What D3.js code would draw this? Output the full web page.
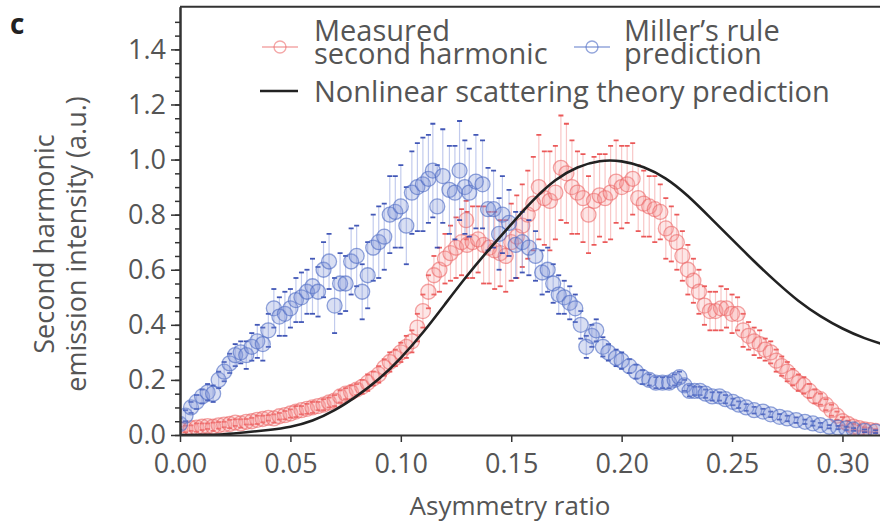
<!DOCTYPE html>
<html><head><meta charset="utf-8">
<script src="https://cdn.jsdelivr.net/npm/d3@7"></script>
<style>
body{margin:0;background:#fff}
svg text{font-family:"Open Sans",sans-serif}
</style>
</head><body>
<svg id="chart" width="880" height="527"></svg>
<script>
// Measured second-harmonic emission vs asymmetry ratio
const redX = [0,0.0025,0.005,0.0075,0.01,0.0125,0.015,0.0175,0.02,0.0225,
  0.025,0.0275,0.03,0.0325,0.035,0.0375,0.04,0.0425,0.045,0.0475,
  0.05,0.0525,0.055,0.0575,0.06,0.0625,0.065,0.0675,0.07,0.0725,
  0.075,0.0775,0.08,0.0825,0.085,0.0875,0.09,0.0925,0.095,0.0975,
  0.1,0.1025,0.105,0.1075,0.11,0.1125,0.115,0.1175,0.12,0.1225,
  0.125,0.1275,0.1296,
  0.13,0.1325,0.135,0.1375,0.14,0.1425,0.145,0.1475,
  0.15,0.1525,0.155,0.1575,0.16,0.1625,0.165,0.1675,0.17,0.1725,
  0.175,0.1775,0.18,0.1825,0.185,0.1875,0.19,0.1925,0.195,0.1975,
  0.2,0.2025,0.205,0.2075,0.21,0.2125,0.215,0.2175,0.22,0.2225,
  0.225,0.2275,0.23,0.2325,0.235,0.2375,0.24,0.2425,0.245,0.2475,
  0.25,0.2525,0.255,0.2575,0.26,0.2625,0.265,0.2675,0.27,0.2725,
  0.275,0.2775,0.28,0.2825,0.285,0.2875,0.29,0.2925,0.295,0.2975,
  0.3,0.3025,0.305,0.3075,0.31,0.3125,0.315];
const redY = [0.02,0.022,0.025,0.027,0.03,0.032,0.03,0.035,0.038,0.04,
  0.045,0.042,0.048,0.05,0.055,0.058,0.062,0.06,0.068,0.072,
  0.078,0.085,0.09,0.095,0.1,0.105,0.11,0.118,0.125,0.14,
  0.15,0.155,0.165,0.175,0.19,0.205,0.22,0.245,0.265,0.28,
  0.3,0.32,0.34,0.39,0.45,0.52,0.58,0.6,0.64,0.66,
  0.68,0.7,0.78,
  0.69,0.7,0.71,0.69,0.68,0.67,0.66,0.65,
  0.7,0.72,0.76,0.8,0.84,0.9,0.86,0.85,0.88,0.97,
  0.95,0.9,0.88,0.86,0.8,0.85,0.87,0.86,0.88,0.92,
  0.9,0.91,0.93,0.86,0.84,0.83,0.82,0.81,0.75,0.73,
  0.7,0.65,0.6,0.56,0.52,0.47,0.45,0.45,0.46,0.46,
  0.44,0.44,0.38,0.36,0.34,0.33,0.31,0.3,0.27,0.25,
  0.23,0.21,0.19,0.18,0.16,0.14,0.13,0.11,0.09,0.07,
  0.05,0.04,0.03,0.025,0.02,0.018,0.015];
const redErr = [0.01,0.012,0.01,0.015,0.012,0.01,0.015,0.012,0.01,0.015,
  0.012,0.015,0.01,0.012,0.015,0.012,0.01,0.015,0.012,0.015,
  0.015,0.02,0.015,0.018,0.02,0.015,0.02,0.018,0.02,0.022,
  0.02,0.025,0.02,0.025,0.03,0.025,0.03,0.03,0.035,0.03,
  0.035,0.04,0.04,0.05,0.06,0.06,0.07,0.08,0.09,0.1,
  0.11,0.12,0.07,
  0.12,0.13,0.12,0.14,0.13,0.14,0.12,0.13,
  0.14,0.15,0.15,0.16,0.17,0.19,0.17,0.18,0.17,0.19,
  0.18,0.17,0.15,0.16,0.14,0.16,0.15,0.16,0.17,0.15,
  0.15,0.14,0.13,0.12,0.12,0.11,0.12,0.1,0.11,0.1,
  0.1,0.09,0.09,0.08,0.08,0.07,0.07,0.07,0.08,0.07,
  0.07,0.06,0.06,0.05,0.05,0.05,0.04,0.04,0.04,0.035,
  0.035,0.03,0.03,0.03,0.025,0.025,0.02,0.02,0.02,0.015,
  0.015,0.012,0.01,0.01,0.008,0.008,0.006];

// Miller's rule prediction
const blueX = [0,0.0025,0.005,0.0075,0.01,0.0125,0.015,0.0175,0.02,0.0225,
  0.025,0.0275,0.03,0.0325,0.035,0.0375,0.04,0.0425,0.045,0.0475,
  0.05,0.0525,0.055,0.0575,0.06,0.0625,0.065,0.0675,0.07,0.0725,
  0.075,0.0775,0.08,0.0825,0.085,0.0875,0.09,0.0925,0.095,0.0975,
  0.1,0.1025,0.105,0.1075,0.11,0.1125,0.1145,0.1165,0.119,0.122,
  0.1245,0.1266,0.129,0.131,0.134,0.137,0.1395,0.142,0.1445,0.146,
  0.149,0.152,0.155,0.158,0.161,0.164,0.1665,0.169,0.1715,0.174,
  0.1765,0.179,0.1815,0.184,0.1865,0.1885,0.1915,0.194,0.1975,0.2,
  0.2035,0.2065,0.2095,0.2125,0.2155,0.2185,0.2215,0.224,0.2262,0.2285,
  0.2307,0.233,0.2355,0.238,0.241,0.2443,0.247,0.2504,0.253,0.2564,
  0.26,0.264,0.2675,0.2715,0.275,0.279,0.283,0.2866,0.29,0.294,
  0.298,0.3017,0.305,0.31,0.315];
const blueY = [0.04,0.07,0.1,0.12,0.14,0.155,0.15,0.2,0.23,0.26,
  0.29,0.3,0.29,0.32,0.34,0.33,0.38,0.46,0.43,0.44,
  0.46,0.49,0.5,0.52,0.54,0.52,0.6,0.63,0.47,0.55,
  0.55,0.63,0.65,0.52,0.58,0.68,0.7,0.72,0.8,0.81,
  0.83,0.76,0.88,0.9,0.91,0.93,0.96,0.83,0.94,0.89,
  0.88,0.96,0.9,0.88,0.92,0.91,0.82,0.82,0.73,0.8,
  0.77,0.69,0.7,0.68,0.65,0.59,0.6,0.55,0.51,0.5,
  0.48,0.46,0.4,0.32,0.36,0.38,0.32,0.3,0.28,0.27,
  0.25,0.23,0.21,0.2,0.19,0.19,0.19,0.2,0.21,0.18,
  0.16,0.16,0.16,0.15,0.14,0.14,0.13,0.12,0.11,0.1,
  0.09,0.085,0.075,0.066,0.06,0.054,0.048,0.042,0.036,0.03,
  0.027,0.024,0.02,0.015,0.012];
const blueErr = [0.02,0.02,0.02,0.025,0.025,0.03,0.03,0.03,0.035,0.035,
  0.04,0.04,0.05,0.05,0.06,0.06,0.06,0.07,0.07,0.08,
  0.07,0.08,0.09,0.08,0.1,0.09,0.1,0.1,0.1,0.11,
  0.1,0.12,0.11,0.1,0.12,0.12,0.13,0.12,0.14,0.13,
  0.15,0.14,0.15,0.16,0.17,0.16,0.17,0.15,0.17,0.16,
  0.17,0.18,0.17,0.16,0.17,0.16,0.15,0.14,0.13,0.14,
  0.12,0.12,0.11,0.1,0.09,0.08,0.08,0.07,0.07,0.06,
  0.06,0.05,0.05,0.04,0.04,0.04,0.035,0.03,0.03,0.03,
  0.025,0.025,0.025,0.02,0.02,0.02,0.02,0.02,0.02,0.02,
  0.02,0.015,0.015,0.015,0.015,0.015,0.015,0.012,0.012,0.012,
  0.012,0.01,0.01,0.01,0.01,0.01,0.008,0.008,0.008,0.006,
  0.006,0.006,0.005,0.005,0.005];

// Nonlinear scattering theory prediction
const theoryX = [0,0.01,0.02,0.03,0.04,0.05,0.06,0.07,0.08,0.09,0.1,0.11,0.12,0.13,0.14,0.15,0.16,
  0.17,0.18,0.19,0.2,0.21,0.22,0.23,0.24,0.25,0.26,0.27,0.28,0.29,0.3,0.31,0.32];
const theoryY = [0,0,0.002,0.01,0.018,0.028,0.05,0.088,0.14,0.2,0.278,0.37,0.475,0.58,0.675,0.765,0.855,
  0.93,0.975,0.998,0.997,0.975,0.935,0.87,0.79,0.71,0.63,0.555,0.485,0.43,0.385,0.35,0.325];

const xTicks = [0,0.05,0.1,0.15,0.2,0.25,0.3];
const yTicks = [0,0.2,0.4,0.6,0.8,1.0,1.2,1.4];
const yMinorTicks = d3.range(0, 31).map(i => i * 0.05);

(function draw() {
  const svg = d3.select("#chart");
  const mLeft = 180, mRight = 880, mTop = 6.7, mBottom = 435;
  const x = d3.scaleLinear().domain([0, 0.317]).range([mLeft, mRight]);
  const y = d3.scaleLinear().domain([0, 1.555]).range([mBottom, mTop]);

  svg.append("defs").append("clipPath").attr("id", "plot")
    .append("rect").attr("x", mLeft).attr("y", mTop).attr("width", mRight - mLeft).attr("height", mBottom - mTop);

  const plot = svg.append("g").attr("clip-path", "url(#plot)");

  function drawSeries(xs, ys, es, style) {
    const data = xs.map((v, i) => ({x: v, y: ys[i], e: es[i]}));
    const g = plot.append("g");
    g.selectAll("line.bar").data(data).join("line").attr("class", "bar")
      .attr("x1", d => x(d.x)).attr("x2", d => x(d.x))
      .attr("y1", d => y(d.y - d.e)).attr("y2", d => y(d.y + d.e))
      .attr("stroke", style.bar).attr("stroke-width", 1.2);
    const caps = data.flatMap(d => [{x: d.x, v: d.y - d.e}, {x: d.x, v: d.y + d.e}]);
    g.selectAll("line.cap").data(caps).join("line").attr("class", "cap")
      .attr("x1", d => x(d.x) - 2.5).attr("x2", d => x(d.x) + 2.5)
      .attr("y1", d => y(d.v)).attr("y2", d => y(d.v))
      .attr("stroke", style.cap).attr("stroke-width", 1.8);
    g.selectAll("circle").data(data).join("circle")
      .attr("cx", d => x(d.x)).attr("cy", d => y(d.y)).attr("r", 7.5)
      .attr("fill", style.fill).attr("stroke", style.stroke).attr("stroke-width", 1.3);
  }

  const redStyle = {bar: "rgba(240,130,130,0.45)", cap: "rgba(230,50,50,0.8)",
    fill: "rgba(245,150,150,0.24)", stroke: "rgba(235,95,95,0.55)"};
  const blueStyle = {bar: "rgba(120,140,215,0.45)", cap: "rgba(35,60,170,0.85)",
    fill: "rgba(130,150,215,0.3)", stroke: "rgba(75,105,195,0.6)"};

  drawSeries(redX, redY, redErr, redStyle);
  drawSeries(blueX, blueY, blueErr, blueStyle);

  const theory = theoryX.map((v, i) => [v, theoryY[i]]);
  plot.append("path").datum(theory)
    .attr("d", d3.line().x(d => x(d[0])).y(d => y(d[1])).curve(d3.curveBasis))
    .attr("fill", "none").attr("stroke", "#222").attr("stroke-width", 2.6);

  // Axes
  const axisColor = "#333", tickText = "#555";
  const gx = svg.append("g").attr("transform", `translate(0,${mBottom})`)
    .call(d3.axisBottom(x).tickValues(xTicks).tickFormat(d3.format(".2f")).tickSize(7).tickSizeOuter(0).tickPadding(12));
  const gyMinor = svg.append("g").attr("transform", `translate(${mLeft},0)`)
    .call(d3.axisLeft(y).tickValues(yMinorTicks).tickFormat("").tickSize(5).tickSizeOuter(0));
  const gy = svg.append("g").attr("transform", `translate(${mLeft},0)`)
    .call(d3.axisLeft(y).tickValues(yTicks).tickFormat(d3.format(".1f")).tickSize(9).tickSizeOuter(0).tickPadding(5));
  [gx, gy, gyMinor].forEach(g => {
    g.selectAll("path.domain").attr("stroke", axisColor).attr("stroke-width", 2);
    g.selectAll(".tick line").attr("stroke", axisColor).attr("stroke-width", 1.5);
    g.selectAll("text").attr("fill", tickText).style("font-size", "27px").style("font-family", "'Open Sans', sans-serif");
  });
  gy.selectAll("text").attr("dy", "0.32em");

  svg.append("line").attr("x1", mLeft).attr("x2", mRight).attr("y1", mTop).attr("y2", mTop)
    .attr("stroke", axisColor).attr("stroke-width", 2);

  // Axis titles
  svg.append("text").attr("x", 510).attr("y", 515).attr("text-anchor", "middle")
    .attr("fill", "#555").style("font-size", "26px").text("Asymmetry ratio");
  const yt = svg.append("text").attr("transform", "translate(0,244) rotate(-90)")
    .attr("text-anchor", "middle").attr("fill", "#555").style("font-size", "27px");
  yt.append("tspan").attr("x", 0).attr("y", 54).text("Second harmonic");
  yt.append("tspan").attr("x", 0).attr("y", 86).text("emission intensity (a.u.)");

  svg.append("text").attr("x", 10).attr("y", 34).attr("fill", "#222")
    .style("font-size", "28px").style("font-weight", "bold").text("c");

  // Legend
  const leg = svg.append("g");
  function legMarker(cx, cy, style) {
    leg.append("line").attr("x1", cx - 18).attr("x2", cx + 18).attr("y1", cy).attr("y2", cy)
      .attr("stroke", style.stroke).attr("stroke-width", 1.3);
    leg.append("circle").attr("cx", cx).attr("cy", cy).attr("r", 6)
      .attr("fill", "none").attr("stroke", style.stroke).attr("stroke-width", 1.3);
  }
  legMarker(280, 47, redStyle);
  legMarker(592, 47, blueStyle);
  leg.append("line").attr("x1", 260).attr("x2", 298).attr("y1", 91).attr("y2", 91)
    .attr("stroke", "#222").attr("stroke-width", 2.4);
  const legText = (tx, ty, lines) => {
    const t = leg.append("text").attr("fill", "#555").style("font-size", "29px");
    lines.forEach((s, i) => t.append("tspan").attr("x", tx).attr("y", ty + i * 23).text(s));
  };
  legText(314, 41, ["Measured", "second harmonic"]);
  legText(624, 41, ["Miller\u2019s rule", "prediction"]);
  legText(314, 102, ["Nonlinear scattering theory prediction"]);
})();
</script>
</body></html>
